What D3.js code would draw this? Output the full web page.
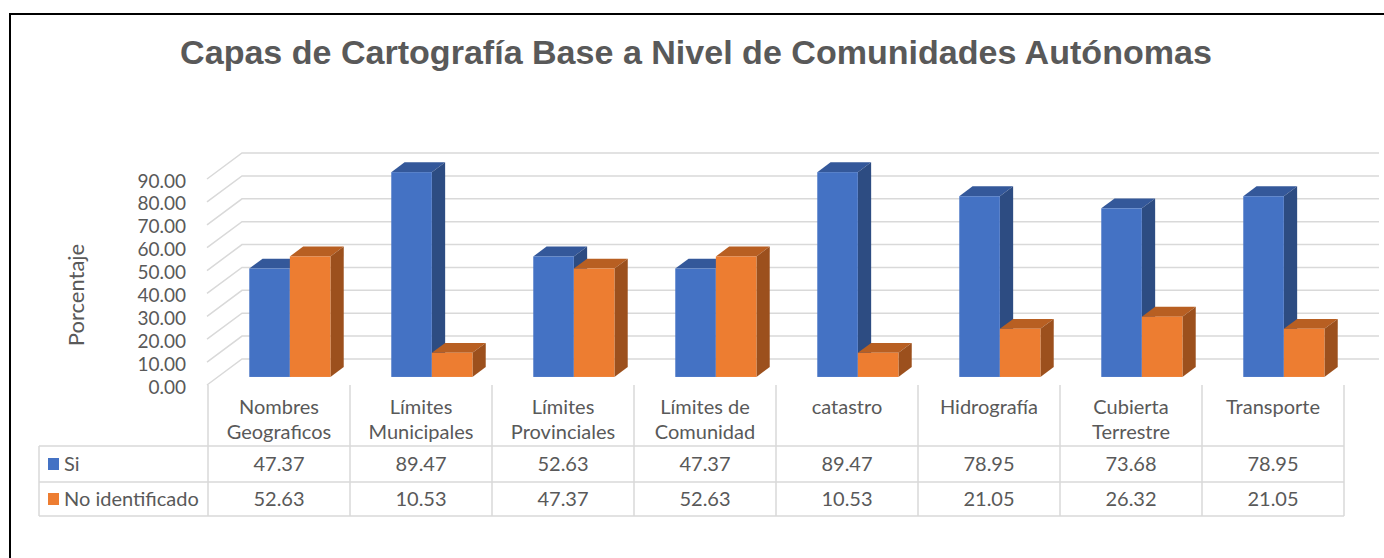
<!DOCTYPE html>
<html>
<head>
<meta charset="utf-8">
<script src="https://cdn.jsdelivr.net/npm/d3@7"></script>
<style>
  body { margin: 0; background: #fff; }
  text { font-family: Lato, "Liberation Sans", sans-serif; fill: #595959; }
</style>
</head>
<body>
<div id="chart"></div>
<script>
// chart data
var categories = ["Nombres\nGeograficos", "Límites\nMunicipales", "Límites\nProvinciales", "Límites de\nComunidad",
  "catastro", "Hidrografía", "Cubierta\nTerrestre", "Transporte"];
var seriesNames = ["Si", "No identificado"];
var siValues = [47.37, 89.47, 52.63, 47.37, 89.47, 78.95, 73.68, 78.95];
var noValues = [52.63, 10.53, 47.37, 52.63, 10.53, 21.05, 26.32, 21.05];
var yTicks = [0, 10, 20, 30, 40, 50, 60, 70, 80, 90];
var titleText = "Capas de Cartografía Base a Nivel de Comunidades Autónomas";
var yTitle = "Porcentaje";

var svgWidth = 1384;
var svgHeight = 558;

var colors = {
  "Si": {front: "#4472C4", top: "#34589A", side: "#2D4C82"},
  "No identificado": {front: "#ED7D31", top: "#B85F22", side: "#9C501D"}
};
var gridColor = "#D9D9D9";

var svg = d3.select("#chart")
  .append("svg")
  .attr("width", svgWidth)
  .attr("height", svgHeight);

// outer frame
svg.append("rect")
  .attr("x", 10).attr("y", 14)
  .attr("width", 1500).attr("height", 700)
  .attr("fill", "none")
  .attr("stroke", "#000")
  .attr("stroke-width", 2);

// title, fitted to the width seen in the picture
var title = svg.append("text")
  .attr("x", 696).attr("y", 64)
  .attr("text-anchor", "middle")
  .style("font-family", "'Liberation Sans', Arial, sans-serif")
  .style("font-weight", "bold")
  .style("font-size", "29px")
  .text(titleText);
var tw = title.node().getComputedTextLength();
title.style("font-size", (29 * 1032 / tw).toFixed(2) + "px");

// scales: front plane of the 3D box
var x = d3.scaleBand().domain(categories).range([208, 1344]);
var xSub = d3.scaleBand().domain(seriesNames).range([0, x.bandwidth()]).paddingOuter(0.75).paddingInner(0);
var y = d3.scaleLinear().domain([0, 90]).range([385, 179]);
// depth into the box: 0 = front, 1 = back wall
var dX = d3.scaleLinear().domain([0, 1]).range([0, 35]);
var dY = d3.scaleLinear().domain([0, 1]).range([0, -26]);

// left wall + back wall gridlines
var grid = svg.append("g");
yTicks.forEach(function(t) {
  var pts = [
    [x.range()[0] - 1, y(t)],
    [x.range()[0] - 1 + dX(1), y(t) + dY(1)],
    [x.range()[1] + dX(1), y(t) + dY(1)]
  ];
  grid.append("path")
    .attr("d", d3.line()(pts))
    .attr("fill", "none")
    .attr("stroke", gridColor)
    .attr("stroke-width", 1.5);
});

// y axis labels
var yAxis = d3.axisLeft(y)
  .tickValues(yTicks)
  .tickFormat(d3.format(".2f"))
  .tickSize(0)
  .tickPadding(0);
var yG = svg.append("g")
  .attr("transform", "translate(186,2)")
  .call(yAxis);
yG.select(".domain").remove();
yG.selectAll("text")
  .style("font-family", "Lato, sans-serif")
  .style("font-size", "19px")
  .attr("fill", "#595959");

svg.append("text")
  .attr("transform", "translate(84,295) rotate(-90)")
  .attr("text-anchor", "middle")
  .style("font-size", "22px")
  .text(yTitle);

// bars
var barData = [];
categories.forEach(function(c, i) {
  barData.push({cat: c, series: "Si", value: siValues[i]});
  barData.push({cat: c, series: "No identificado", value: noValues[i]});
});

var d0 = 0.31, d1 = 0.69;
var bars = svg.append("g").selectAll("g")
  .data(barData)
  .enter().append("g");

function face(pts) { return d3.line()(pts) + "Z"; }

bars.each(function(d) {
  var g = d3.select(this);
  var x0 = x(d.cat) + xSub(d.series) + dX(d0);
  var x1 = x0 + xSub.bandwidth();
  var yt = y(d.value) + dY(d0);
  var yb = y(0) + dY(d0);
  var ox = dX(d1 - d0), oy = dY(d1 - d0);
  var c = colors[d.series];
  g.append("path")
    .attr("d", face([[x0, yt], [x1, yt], [x1 + ox, yt + oy], [x0 + ox, yt + oy]]))
    .attr("fill", c.top);
  g.append("path")
    .attr("d", face([[x1, yt], [x1, yb], [x1 + ox, yb + oy], [x1 + ox, yt + oy]]))
    .attr("fill", c.side);
  g.append("rect")
    .attr("x", x0).attr("y", yt)
    .attr("width", x1 - x0).attr("height", yb - yt)
    .attr("fill", c.front);
});

// data table
var tableLeft = 39;
var rowY = [446, 482, 516];
var table = svg.append("g");
var lineStyle = function(sel) {
  return sel.attr("stroke", gridColor).attr("stroke-width", 1.5);
};
rowY.forEach(function(ry) {
  table.append("line").attr("x1", tableLeft).attr("x2", x.range()[1])
    .attr("y1", ry).attr("y2", ry).call(lineStyle);
});
table.append("line").attr("x1", tableLeft).attr("x2", tableLeft)
  .attr("y1", rowY[0]).attr("y2", rowY[2]).call(lineStyle);
categories.concat([null]).forEach(function(c, i) {
  var xx = c === null ? x.range()[1] : x(c);
  table.append("line").attr("x1", xx).attr("x2", xx)
    .attr("y1", y(0)).attr("y2", rowY[2]).call(lineStyle);
});

// category labels
categories.forEach(function(c) {
  var t = table.append("text")
    .attr("x", x(c) + x.bandwidth() / 2)
    .attr("y", 414)
    .attr("text-anchor", "middle")
    .style("font-size", "20px");
  c.split("\n").forEach(function(line, k) {
    t.append("tspan")
      .attr("x", x(c) + x.bandwidth() / 2)
      .attr("dy", k === 0 ? 0 : 25)
      .text(line);
  });
});

// value rows
[siValues, noValues].forEach(function(vals, r) {
  var cy = (rowY[r] + rowY[r + 1]) / 2;
  categories.forEach(function(c, i) {
    table.append("text")
      .attr("x", x(c) + x.bandwidth() / 2)
      .attr("y", cy + 7)
      .attr("text-anchor", "middle")
      .style("font-size", "20px")
      .text(d3.format(".2f")(vals[i]));
  });
  table.append("rect")
    .attr("x", 48).attr("y", cy - 6)
    .attr("width", 11).attr("height", 12)
    .attr("fill", colors[seriesNames[r]].front);
  table.append("text")
    .attr("x", 64).attr("y", cy + 7)
    .style("font-size", "20px")
    .text(seriesNames[r]);
});
</script>
</body>
</html>
